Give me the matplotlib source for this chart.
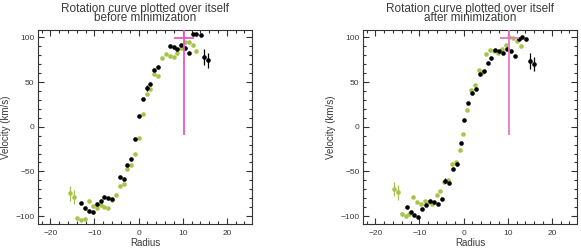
import matplotlib
matplotlib.use('Agg')
import matplotlib.pyplot as plt
from matplotlib.ticker import MultipleLocator

plt.rcParams['font.family'] = ['Liberation Sans', 'DejaVu Sans']

# before minimization
before_black_r = [-12.97, -12.07, -11.24, -10.33, -9.50, -8.60, -7.77, -6.86, -5.96, -4.30,
                  -3.39, -2.56, -1.66, -0.75, 0.08, 0.98, 1.81, 2.64, 3.54, 4.45,
                  7.01, 7.92, 8.75, 9.65, 10.48, 11.39, 12.22, 13.12, 14.03, 14.86, 15.76]
before_black_v = [-85.4, -91.0, -94.7, -95.8, -86.9, -82.8, -78.3, -79.4, -80.9, -56.3,
                  -58.5, -42.5, -36.2, -13.8, 12.3, 30.9, 43.3, 47.4, 63.8, 66.8,
                  90.6, 89.5, 86.9, 91.4, 88.4, 82.8, 103.3, 104.0, 102.2, 78.3, 74.2]
before_black_err = [0] * 16 + [3] + [0] * 12 + [9, 8]

before_green_r = [-15.61, -14.71, -13.88, -12.97, -12.07, -11.24, -10.33, -9.50, -8.60, -7.77,
                  -6.86, -5.96, -5.13, -4.30, -3.39, -2.56, -1.66, -0.75, 0.08, 0.98,
                  1.81, 2.64, 3.54, 4.45, 5.28, 6.18, 7.01, 7.92, 8.75, 9.65,
                  10.48, 11.39, 12.22, 13.12]
before_green_v = [-74.6, -78.3, -102.5, -104.0, -103.7, -83.5, -89.1, -91.4, -87.3, -89.5,
                  -90.6, -82.4, -76.8, -66.7, -64.1, -47.0, -43.3, -30.9, -12.3, 14.2,
                  36.5, 42.1, 58.9, 56.3, 76.4, 81.3, 79.4, 78.3, 82.8, 87.6,
                  95.1, 94.3, 91.0, 85.0]
before_green_err = [8, 8] + [0] * 32

# after minimization
after_black_r = [-12.80, -11.97, -11.14, -10.23, -9.39, -8.48, -7.65, -6.82, -5.91, -5.00,
                 -4.17, -3.26, -2.42, -1.52, -0.68, 0.15, 1.06, 1.97, 2.88, 3.71,
                 4.61, 5.45, 6.29, 7.20, 8.02, 8.93, 9.84, 10.68, 11.59, 12.50,
                 13.30, 14.20, 15.07, 15.98]
after_black_v = [-90.2, -95.1, -99.2, -100.7, -91.7, -87.2, -83.5, -84.2, -86.5, -81.2,
                 -60.4, -63.0, -47.3, -41.4, -18.6, 7.8, 26.5, 38.0, 42.2, 59.0,
                 62.0, 71.6, 76.5, 86.1, 85.0, 82.4, 86.9, 84.3, 78.7, 98.1,
                 100.0, 97.8, 73.5, 69.8]
after_black_err = [0] * 10 + [3] + [0] * 21 + [9, 8]

after_green_r = [-15.83, -14.93, -14.02, -13.11, -12.27, -11.36, -10.52, -9.61, -8.80, -7.88,
                 -7.05, -6.14, -5.30, -4.39, -3.56, -2.65, -1.82, -0.91, -0.08, 0.83,
                 1.74, 2.65, 3.41, 4.32, 5.15, 6.06, 6.89, 7.80, 8.64, 9.55,
                 10.30, 11.21, 12.10, 12.95]
after_green_v = [-70.0, -73.4, -98.0, -99.6, -98.0, -78.6, -84.2, -86.1, -83.1, -83.9,
                 -86.1, -76.8, -72.3, -61.9, -59.3, -42.1, -39.1, -26.4, -7.8, 18.7,
                 41.1, 47.0, 63.4, 60.9, 81.3, 86.1, 84.7, 82.8, 86.9, 91.7,
                 100.0, 99.2, 95.5, 90.3]
after_green_err = [8, 8] + [0] * 32

# center marks (x, y, xerr, yerr)
before_center = (10.3, 99.5, 2.35, 109)
after_center = (10.4, 99.5, 2.25, 109)

green = '#a6c44a'
txt = '#3a3a3a'

fig = plt.figure(figsize=(5.81, 2.52), dpi=100)
ax1 = fig.add_axes([38/581, 0.1111, 214/581, 194/252])
ax2 = fig.add_axes([363/581, 0.1111, 214/581, 194/252])

panels = [
    (ax1, before_black_r, before_black_v, before_black_err,
     before_green_r, before_green_v, before_green_err, before_center, '#ee55c4', 'before minimization'),
    (ax2, after_black_r, after_black_v, after_black_err,
     after_green_r, after_green_v, after_green_err, after_center, '#e27cc6', 'after minimization'),
]

for ax, br, bv, be, gr, gv, ge, c, pink, sub in panels:
    ax.errorbar(br, bv, yerr=be, fmt='o', ms=3.3, color='black', mew=0,
                elinewidth=0.9, capsize=0, zorder=3)
    ax.errorbar(gr, gv, yerr=ge, fmt='o', ms=3.3, color=green, mew=0,
                elinewidth=0.9, capsize=0, zorder=2)
    ax.errorbar([c[0]], [c[1]], xerr=[c[2]], yerr=[c[3]], fmt='none',
                ecolor=pink, elinewidth=1.3, capsize=0, zorder=4)

    ax.set_xlim(-22.8, 25.7)
    ax.set_ylim(-108.8, 108.2)
    ax.xaxis.set_major_locator(MultipleLocator(10))
    ax.xaxis.set_minor_locator(MultipleLocator(2))
    ax.yaxis.set_major_locator(MultipleLocator(50))
    ax.yaxis.set_minor_locator(MultipleLocator(10))
    ax.tick_params(which='both', direction='in', top=True, right=True,
                   colors='#333333', labelcolor=txt, labelsize=6, width=0.8)
    ax.tick_params(which='major', length=4.5)
    ax.tick_params(which='minor', length=2.2)
    ax.tick_params(axis='x', pad=4)
    ax.tick_params(axis='y', pad=2.5)
    for s in ax.spines.values():
        s.set_color('#333333')
        s.set_linewidth(0.8)

    ax.set_xlabel('Radius', fontsize=7, color=txt, labelpad=1)
    ax.set_ylabel('Velocity (km/s)', fontsize=7, color=txt, labelpad=3)

    # two-line title, tight line spacing like the original
    ax.annotate('Rotation curve plotted over itself\n' + sub, xy=(0.5, 1),
                xycoords='axes fraction', xytext=(0, 4.2), textcoords='offset points',
                ha='center', va='bottom', multialignment='center',
                linespacing=0.68, fontsize=8.5, color=txt)

fig.savefig('out.png', dpi=100)
